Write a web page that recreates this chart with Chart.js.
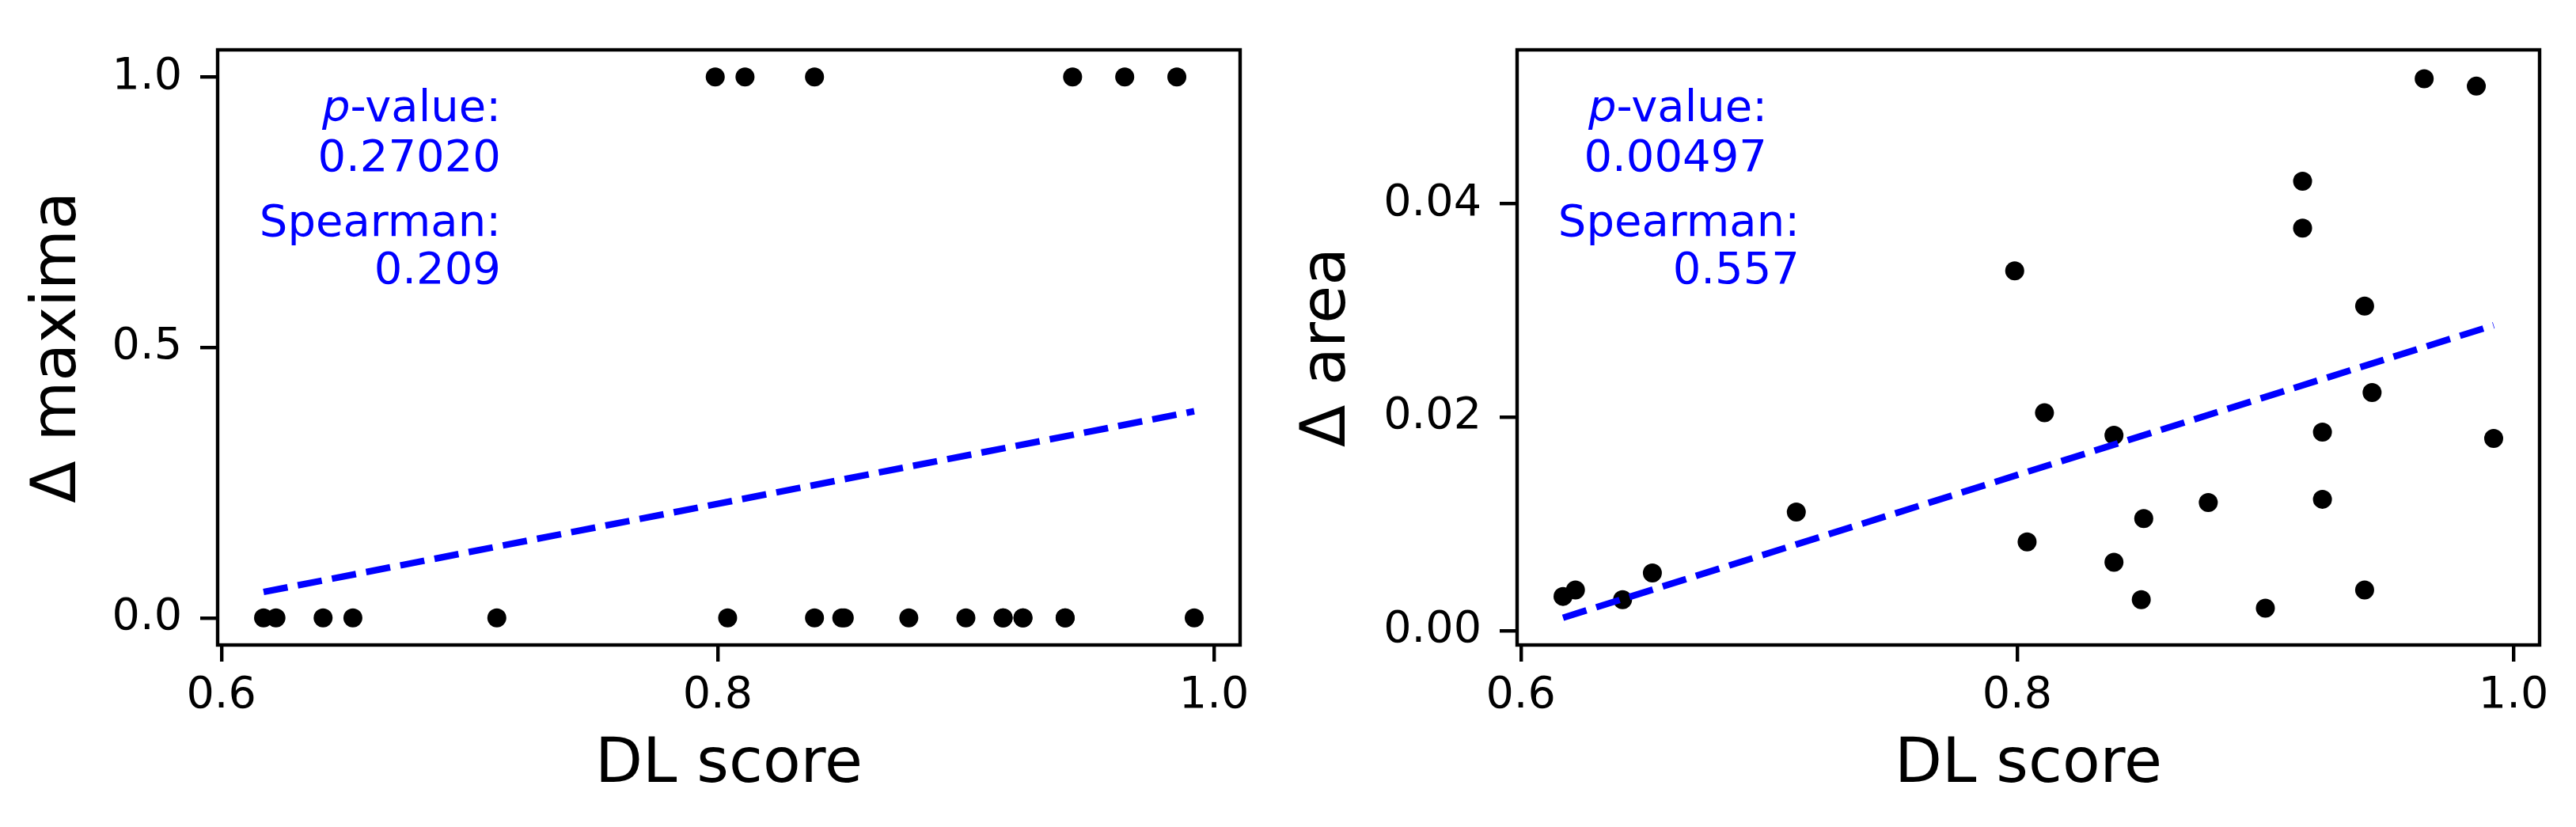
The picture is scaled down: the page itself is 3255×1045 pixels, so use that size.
<!DOCTYPE html>
<html>
<head>
<meta charset="utf-8">
<script src="https://cdn.jsdelivr.net/npm/chart.js"></script>
<style>
  html, body { margin: 0; padding: 0; background: #fff; }
  #wrap { position: relative; width: 3255px; height: 1045px; }
  canvas { position: absolute; top: 0; }
  #c-maxima { left: 0; }
  #c-area { left: 1628px; }
</style>
</head>
<body>
<div id="wrap">
  <canvas id="c-maxima" width="1628" height="1045"></canvas>
  <canvas id="c-area" width="1627" height="1045"></canvas>
</div>
<script>
// ─── Data ────────────────────────────────────────────────────────────────────

var dlScore     = [0.617, 0.622, 0.641, 0.653, 0.711, 0.799, 0.804, 0.811, 0.839, 0.839, 0.850, 0.851,
                   0.877, 0.900, 0.915, 0.915, 0.923, 0.923, 0.940, 0.940, 0.943, 0.964, 0.985, 0.992];
var deltaMaxima = [0, 0, 0, 0, 0, 1, 0, 1, 1, 0, 0, 0,
                   0, 0, 0, 0, 0, 0, 0, 0, 1, 1, 1, 0];
var deltaArea   = [0.0032, 0.0038, 0.0029, 0.0054, 0.0111, 0.0337, 0.0083, 0.0204, 0.0183, 0.0064, 0.0029, 0.0105,
                   0.0120, 0.0021, 0.0421, 0.0377, 0.0186, 0.0123, 0.0304, 0.0038, 0.0223, 0.0517, 0.0510, 0.0180];

var fitX      = [0.617, 0.992];
var fitMaxima = [0.048, 0.382];
var fitArea   = [0.0012, 0.0286];

var xTicks           = [0.6, 0.8, 1.0];
var xTickLabels      = ['0.6', '0.8', '1.0'];
var maximaTicks      = [0, 0.5, 1.0];
var maximaTickLabels = ['0.0', '0.5', '1.0'];
var areaTicks        = [0, 0.02, 0.04];
var areaTickLabels   = ['0.00', '0.02', '0.04'];

var maximaStats = ['0.27020', '0.209'];
var areaStats   = ['0.00497', '0.557'];

var FONT = 'DejaVu Sans';

// ─── Frame + p-value / Spearman text ────────────────────────────────────────

function statsPlugin(cfg) {
    return {
        id: 'frameStats',
        afterDraw(chart) {
            const { ctx, chartArea: a } = chart;
            ctx.save();
            ctx.strokeStyle = '#000';
            ctx.lineWidth = 4.4;
            ctx.strokeRect(a.left, a.top, a.right - a.left, a.bottom - a.top);

            ctx.fillStyle = '#0000ff';
            ctx.textAlign = 'right';
            ctx.textBaseline = 'alphabetic';
            const r1 = a.left + cfg.textRight[0];
            const r2 = a.left + cfg.textRight[1];

            ctx.font = `56px "${FONT}"`;
            ctx.fillText('-value:', r1, a.top + 90);
            const w = ctx.measureText('-value:').width;
            ctx.font = `italic 56px "${FONT}"`;
            ctx.fillText('p', r1 - w, a.top + 90);

            ctx.font = `56px "${FONT}"`;
            ctx.fillText(cfg.stats[0], r1, a.top + 153);
            ctx.fillText('Spearman:', r2, a.top + 235);
            ctx.fillText(cfg.stats[1], r2, a.top + 295);
            ctx.restore();
        }
    };
}

// ─── One panel ──────────────────────────────────────────────────────────────

function makePanel(id, cfg) {
    const tickGrid = { drawOnChartArea: false, drawTicks: true, tickLength: 21, tickWidth: 4.4, tickColor: '#000', lineWidth: 4.4, color: '#000' };
    return new Chart(document.getElementById(id), {
        type: 'scatter',
        data: {
            datasets: [
                {
                    type: 'line',
                    data: fitX.map((x, i) => ({ x, y: cfg.fit[i] })),
                    borderColor: '#0000ff', borderWidth: 8.3, borderDash: [31, 13],
                    borderCapStyle: 'butt', pointRadius: 0, fill: false, tension: 0
                },
                {
                    data: dlScore.map((x, i) => ({ x, y: cfg.y[i] })),
                    backgroundColor: '#000', borderWidth: 0, pointRadius: 12, pointHoverRadius: 12
                }
            ]
        },
        options: {
            responsive: false,
            animation: false,
            devicePixelRatio: 1,
            layout: { padding: { top: 63, right: cfg.padRight, left: 0, bottom: 0 } },
            plugins: { legend: { display: false }, tooltip: { enabled: false } },
            scales: {
                x: {
                    type: 'linear', position: 'bottom', min: 0.5985, max: 1.0105,
                    afterBuildTicks: s => { s.ticks = xTicks.map(v => ({ value: v })); },
                    afterFit: s => { s.height = 230; },
                    grid: tickGrid,
                    border: { display: false },
                    ticks: { color: '#000', font: { family: FONT, size: 55.6 }, padding: 10, maxRotation: 0, autoSkip: false,
                             callback: (v, i) => xTickLabels[i] },
                    title: { display: true, text: 'DL score', color: '#000', font: { family: FONT, size: 78 },
                             padding: { top: 0, bottom: 30 } }
                },
                y: {
                    type: 'linear', position: 'left', min: cfg.yMin, max: cfg.yMax,
                    afterBuildTicks: s => { s.ticks = cfg.yTicks.map(v => ({ value: v })); },
                    afterFit: s => { s.width = cfg.left; },
                    grid: Object.assign({}, tickGrid, { tickLength: 22 }),
                    border: { display: false },
                    ticks: { color: '#000', font: { family: FONT, size: 55.6 }, padding: 23, autoSkip: false,
                             callback: (v, i) => cfg.yTickLabels[i] },
                    title: { display: true, text: cfg.yTitle, color: '#000', font: { family: FONT, size: 78 },
                             padding: { top: cfg.yTitlePad, bottom: 0 } }
                }
            }
        },
        plugins: [statsPlugin(cfg)]
    });
}

makePanel('c-maxima', {
    y: deltaMaxima, fit: fitMaxima, yMin: -0.05, yMax: 1.05,
    yTicks: maximaTicks, yTickLabels: maximaTickLabels, yTitle: 'Δ maxima',
    left: 275, padRight: 61, yTitlePad: 28,
    stats: maximaStats, textRight: [358, 358]
});

makePanel('c-area', {
    y: deltaArea, fit: fitArea, yMin: -0.00135, yMax: 0.0544,
    yTicks: areaTicks, yTickLabels: areaTickLabels, yTitle: 'Δ area',
    left: 289, padRight: 46, yTitlePad: 4,
    stats: areaStats, textRight: [316, 357]
});
</script>
</body>
</html>
